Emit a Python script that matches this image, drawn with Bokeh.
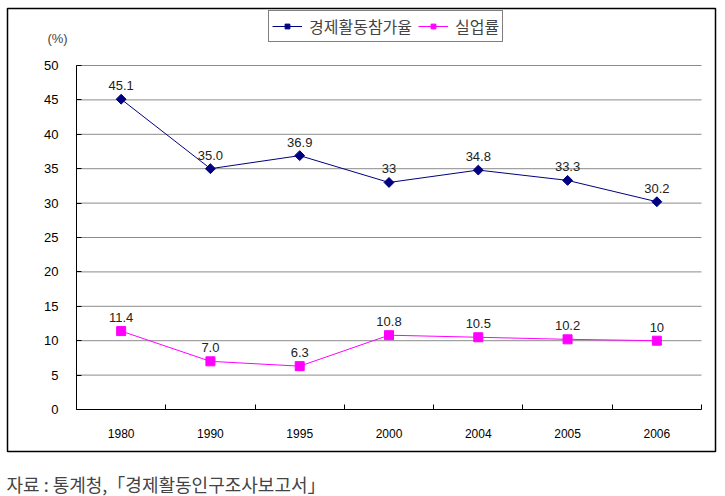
import math
from bokeh.plotting import figure
from bokeh.models import (FixedTicker, Legend, LegendItem, Label, LabelSet,
                          ColumnDataSource, Range1d, Title)
from bokeh.core.properties import value
from bokeh.embed import file_html
from bokeh.resources import INLINE

years = ["1980", "1990", "1995", "2000", "2004", "2005", "2006"]
participation = [45.1, 35.0, 36.9, 33, 34.8, 33.3, 30.2]
participation_labels = ["45.1", "35.0", "36.9", "33", "34.8", "33.3", "30.2"]
unemployment = [11.4, 7.0, 6.3, 10.8, 10.5, 10.2, 10]
unemployment_labels = ["11.4", "7.0", "6.3", "10.8", "10.5", "10.2", "10"]
series_names = ["경제활동참가율", "실업률"]
y_ticks = list(range(0, 51, 5))
unit_text = "(%)"
source_text = "자료 : 통계청,「경제활동인구조사보고서」"

KFONT = "Noto Sans CJK KR"
NFONT = "Liberation Sans"
NAVY = "#000080"
MAGENTA = "#FF00FF"
GRID = "#8c8c8c"

W, H = 725, 496
# outer box (= frame) in page pixels
BOX_L, BOX_R, BOX_T, BOX_B = 7, 715, 8, 451
# plot area inside the box in page pixels
PA_L, PA_R, PA_T, PA_B = 76, 701, 65, 409

n = len(years)
ymax = y_ticks[-1]
sx = (PA_R - PA_L) / n          # px per x unit
sy = (PA_B - PA_T) / ymax       # px per y unit
x_start = -(PA_L - BOX_L) / sx
x_end = n + (BOX_R - PA_R) / sx
y_start = -(BOX_B - PA_B) / sy
y_end = ymax + (PA_T - BOX_T) / sy

xs = [i + 0.5 for i in range(n)]
src = ColumnDataSource(dict(x=xs, p=participation, pl=participation_labels,
                            u=unemployment, ul=unemployment_labels))

p = figure(width=W, height=H, output_backend="svg", toolbar_location=None,
           x_range=Range1d(x_start, x_end), y_range=Range1d(y_start, y_end),
           min_border_left=BOX_L, min_border_right=W - BOX_R,
           min_border_top=BOX_T, min_border_bottom=H - BOX_B)
p.outline_line_color = "black"
p.outline_line_width = 1.5
p.background_fill_color = "white"
p.border_fill_color = "white"
p.xgrid.visible = False
p.ygrid.visible = False

# horizontal gridlines across the plot area
p.segment(x0=[0] * (len(y_ticks) - 1), x1=[n] * (len(y_ticks) - 1),
          y0=y_ticks[1:], y1=y_ticks[1:], line_color=GRID, line_width=1)

# x axis: labels at category centres, tick marks at category boundaries
p.xaxis.fixed_location = 0
p.xaxis.bounds = (0, n)
p.xaxis.ticker = FixedTicker(ticks=xs, minor_ticks=list(range(n + 1)))
p.xaxis.major_label_overrides = {x: y for x, y in zip(xs, years)}
p.xaxis.major_tick_line_color = None
p.xaxis.minor_tick_in = 5
p.xaxis.minor_tick_out = 0
p.xaxis.minor_tick_line_color = "black"
p.xaxis.axis_line_color = "black"
p.xaxis.major_label_standoff = 13
p.xaxis.major_label_text_font = NFONT
p.xaxis.major_label_text_font_size = "12px"
p.xaxis.major_label_text_color = "black"

p.yaxis.fixed_location = 0
p.yaxis.bounds = (0, ymax)
p.yaxis.ticker = FixedTicker(ticks=y_ticks)
p.yaxis.major_tick_in = 5
p.yaxis.major_tick_out = 0
p.yaxis.minor_tick_line_color = None
p.yaxis.axis_line_color = "black"
p.yaxis.major_label_standoff = 18
p.yaxis.major_label_text_font = NFONT
p.yaxis.major_label_text_font_size = "13px"
p.yaxis.major_label_text_color = "black"

l1 = p.line("x", "p", source=src, line_color=NAVY, line_width=1)
m1 = p.scatter("x", "p", source=src, marker="square", size=7,
               angle=math.pi / 4, fill_color=NAVY, line_color=NAVY)
l2 = p.line("x", "u", source=src, line_color=MAGENTA, line_width=1)
m2 = p.scatter("x", "u", source=src, marker="square", size=9,
               fill_color=MAGENTA, line_color=MAGENTA)

for col in ("pl", "ul"):
    ycol = "p" if col == "pl" else "u"
    p.add_layout(LabelSet(x="x", y=ycol, text=col, source=src, y_offset=9,
                          text_align="center", text_baseline="bottom",
                          text_font=value(NFONT), text_font_size="13px",
                          text_color="#222222"))

legend = Legend(items=[LegendItem(label=series_names[0], renderers=[l1, m1]),
                       LegendItem(label=series_names[1], renderers=[l2, m2])],
                orientation="horizontal", location=(268 - BOX_L, BOX_B - 42),
                border_line_color="black", border_line_width=1.5,
                background_fill_color="white", background_fill_alpha=1,
                label_text_font=KFONT, label_text_font_size="16px",
                glyph_width=30, glyph_height=12, label_standoff=7,
                spacing=6, padding=3, margin=0, label_height=14)
p.add_layout(legend)

p.add_layout(Label(x=(57 - PA_L) / sx, y=(PA_B - 38) / sy,
                   text=unit_text, text_align="center", text_baseline="middle",
                   text_font=NFONT, text_font_size="13px"))

# spacer + source note below the box
p.add_layout(Title(text=" ", text_font_size="8px", standoff=6), "below")
p.add_layout(Title(text=source_text, align="left", offset=6 - BOX_L,
                   text_font=KFONT, text_font_size="18px",
                   text_font_style="normal", standoff=0), "below")

open("out.html", "w").write(file_html(p, INLINE))
